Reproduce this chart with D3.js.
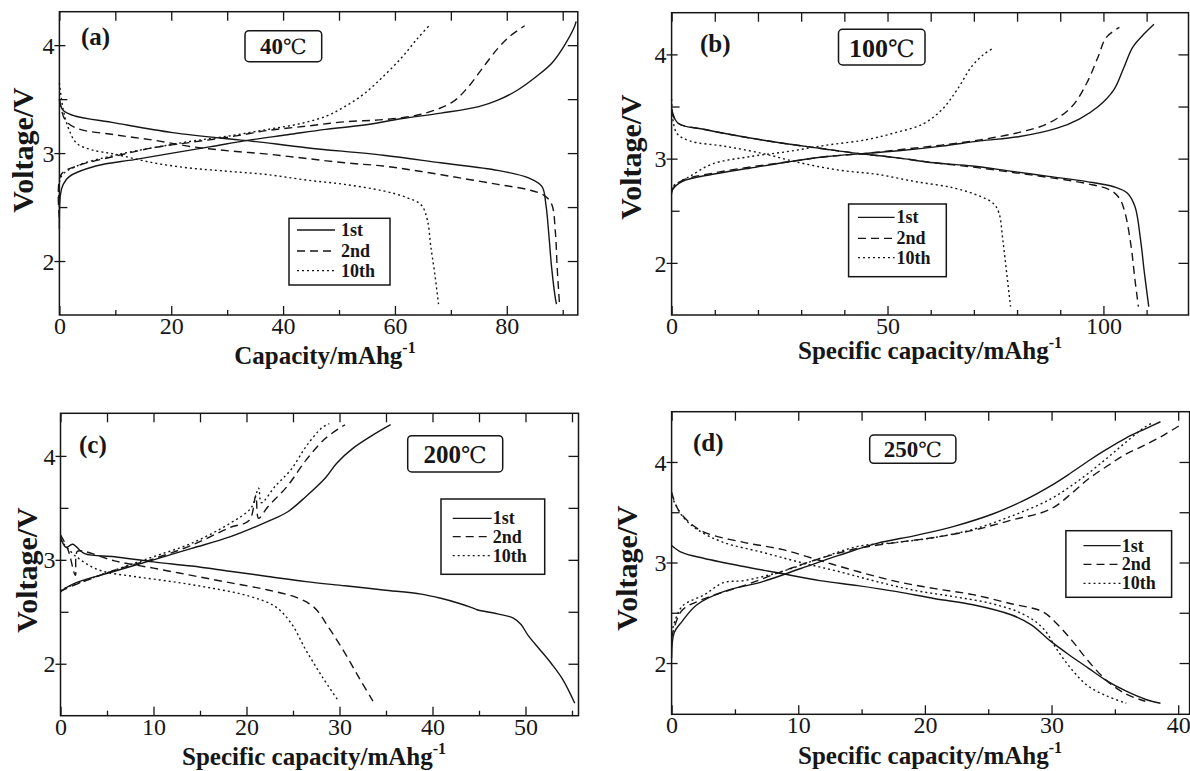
<!DOCTYPE html>
<html><head><meta charset="utf-8">
<script src="https://cdn.jsdelivr.net/npm/d3@7"></script>
<style>body{margin:0;background:#fff} svg{display:block}</style>
</head><body>
<svg id="chart" width="1190" height="771"></svg>
<script>
// ---------------- DATA ----------------
const seriesNames = ["1st", "2nd", "10th"];

// Panel (a) 40℃ : [capacity mAh/g, voltage V]
const a1Charge = [[0,2.3],[0.2,2.62],[0.68,2.71],[1.7,2.78],[6.5,2.88],[13.4,2.94],[20.2,3.0],[27.1,3.06],[33.9,3.12],[40.8,3.17],[47.6,3.22],[54.5,3.26],[61.3,3.32],[68.2,3.37],[75,3.43],[78.4,3.49],[81.8,3.58],[85.3,3.71],[88,3.83],[90.1,3.98],[92.1,4.17],[92.4,4.22]];
const a1Discharge = [[0,3.5],[0.6,3.4],[2.4,3.35],[9.9,3.28],[20.2,3.19],[30.5,3.13],[34.6,3.11],[44.2,3.05],[57.9,2.98],[68.2,2.91],[78.4,2.84],[83.9,2.77],[86.3,2.69],[87,2.52],[87.5,2.26],[88,1.95],[88.7,1.65],[88.9,1.6]];
const a2Charge = [[0,2.4],[0.3,2.8],[3.1,2.88],[9.9,2.97],[16.8,3.05],[23.6,3.1],[30.5,3.15],[37.3,3.21],[44.2,3.25],[51,3.29],[57.9,3.31],[64.7,3.36],[70.2,3.47],[72.9,3.6],[75.7,3.79],[78.4,3.97],[80.5,4.08],[83.2,4.18]];
const a2Discharge = [[0,3.5],[1,3.31],[3.1,3.23],[9.9,3.17],[16.8,3.12],[23.6,3.06],[30.5,3.02],[37.3,2.99],[44.2,2.95],[51,2.91],[57.9,2.88],[64.7,2.83],[71.6,2.77],[78.4,2.71],[83.9,2.66],[86.6,2.61],[88,2.53],[88.7,2.26],[89,1.95],[89.4,1.62]];
const a10Charge = [[0,2.5],[0.3,2.78],[3.1,2.88],[9.9,2.98],[16.8,3.05],[23.6,3.11],[30.5,3.16],[37.3,3.22],[42.8,3.27],[47.6,3.34],[51,3.43],[54.5,3.55],[57.9,3.71],[61.3,3.89],[64,4.06],[66.1,4.18]];
const a10Discharge = [[0,3.65],[0.7,3.4],[1.7,3.22],[3.1,3.09],[5.8,3.03],[9.9,2.99],[16.8,2.91],[23.6,2.86],[30.5,2.83],[37.3,2.8],[44.2,2.75],[51,2.71],[57.9,2.65],[62,2.59],[64.7,2.52],[65.8,2.38],[66.4,2.14],[67.1,1.89],[67.8,1.6]];

// Panel (b) 100℃
const b1Charge = [[0,2.66],[0.2,2.7],[2.4,2.78],[9.5,2.85],[18.3,2.91],[27.2,2.97],[36,3.02],[44.9,3.05],[53.7,3.08],[62.6,3.12],[71.4,3.17],[80.3,3.21],[89.1,3.29],[94.4,3.38],[98.8,3.5],[102.4,3.66],[104.6,3.86],[106.8,4.07],[109.5,4.2],[111.7,4.29]];
const b1Discharge = [[0,3.48],[1.5,3.34],[7.7,3.28],[16.5,3.21],[25.4,3.15],[34.2,3.1],[43.1,3.05],[51.9,3.01],[60.8,2.96],[69.6,2.93],[78.5,2.88],[87.3,2.83],[96.2,2.78],[102.4,2.73],[105.5,2.67],[107.3,2.54],[108.6,2.22],[109.5,1.9],[110.5,1.58]];
const b2Charge = [[0,2.68],[0.2,2.71],[2.4,2.79],[9.5,2.86],[18.3,2.92],[27.2,2.97],[36,3.02],[44.9,3.05],[53.7,3.09],[62.6,3.13],[71.4,3.18],[80.3,3.25],[87.3,3.34],[92.7,3.5],[96.2,3.73],[98.8,3.98],[100.6,4.16],[103.7,4.26]];
const b2Discharge = [[0,3.45],[1.5,3.34],[7.7,3.28],[16.5,3.21],[25.4,3.15],[34.2,3.1],[43.1,3.05],[51.9,3.01],[60.8,2.96],[69.6,2.92],[78.5,2.87],[87.3,2.82],[96.2,2.76],[101.5,2.7],[103.7,2.62],[105,2.48],[106.4,2.16],[107.3,1.84],[108.1,1.58]];
const b10Charge = [[0,2.7],[0.2,2.73],[4.2,2.83],[9.5,2.95],[18.3,3.02],[27.2,3.07],[36,3.13],[44.9,3.18],[51.9,3.25],[58.1,3.33],[62.6,3.47],[66.1,3.66],[69.6,3.89],[72.3,4.0],[74.5,4.06]];
const b10Discharge = [[0,3.57],[1.1,3.25],[4.2,3.17],[12.1,3.12],[21,3.05],[29.8,2.96],[38.7,2.89],[47.5,2.85],[56.4,2.78],[65.2,2.72],[71.4,2.64],[74.5,2.57],[75.8,2.48],[76.7,2.22],[77.6,1.9],[78.5,1.58]];

// Panel (c) 200℃
const c1Charge = [[0,2.69],[0.1,2.7],[1.7,2.78],[5.8,2.89],[10,3.0],[14.1,3.11],[18.2,3.22],[22.3,3.37],[24.4,3.46],[26.4,3.61],[28.5,3.79],[29.7,3.93],[31.4,4.07],[33.4,4.19],[35.5,4.3]];
const c1Discharge = [[0,3.22],[0.6,3.12],[1.3,3.15],[2.6,3.06],[5.8,3.03],[10,2.98],[14.1,2.94],[18.2,2.89],[22.3,2.84],[26.4,2.79],[30.6,2.75],[34.7,2.71],[38.8,2.67],[40.9,2.63],[42.9,2.58],[44.2,2.54],[44.8,2.52],[47,2.48],[48.7,2.44],[49.5,2.38],[50.3,2.27],[51.6,2.13],[52.8,2.0],[54,1.85],[55.3,1.62]];
const c2Charge = [[0,2.69],[0.1,2.7],[5.8,2.9],[10,3.01],[14.1,3.14],[18.2,3.31],[20.3,3.38],[21.0,3.62],[21.3,3.4],[22.3,3.51],[24.4,3.71],[26.4,3.96],[28.5,4.17],[30.6,4.3]];
const c2Discharge = [[0,3.24],[0.8,3.1],[1.6,2.85],[1.8,3.08],[2.6,3.08],[5.8,2.99],[10,2.92],[14.1,2.85],[18.2,2.78],[22.3,2.71],[25.6,2.63],[27.3,2.54],[28.9,2.34],[30.6,2.1],[32.2,1.85],[33.6,1.64]];
const c10Charge = [[0,2.7],[0.1,2.71],[5.8,2.9],[10,3.03],[14.1,3.16],[18.2,3.35],[20.5,3.5],[21.3,3.69],[21.6,3.55],[23.1,3.71],[24.8,3.87],[26.4,4.09],[28.1,4.27],[28.9,4.31]];
const c10Discharge = [[0,3.19],[1.7,3.03],[4.2,2.9],[7.9,2.84],[12,2.79],[16.1,2.73],[20.3,2.65],[23.1,2.55],[24.8,2.39],[26.4,2.13],[28.1,1.88],[29.9,1.64]];

// Panel (d) 250℃
const d1Charge = [[0,2.05],[0.2,2.3],[0.8,2.41],[2,2.58],[4.1,2.71],[7.2,2.81],[10.2,2.94],[13.2,3.07],[16.2,3.19],[19.3,3.27],[22.3,3.36],[25.3,3.48],[27.7,3.61],[29.9,3.76],[31.4,3.88],[32.9,4.01],[34.4,4.13],[35.9,4.24],[37.4,4.33],[38.6,4.4]];
const d1Discharge = [[0,3.17],[0.8,3.1],[2.6,3.04],[5.7,2.96],[8.7,2.89],[11.7,2.82],[14.7,2.77],[17.8,2.71],[20.8,2.64],[23.8,2.58],[26.8,2.48],[28.4,2.38],[29.9,2.22],[31.4,2.08],[32.9,1.95],[34.4,1.82],[35.9,1.72],[37.4,1.64],[38.6,1.6]];
const d2Charge = [[0,2.25],[0.8,2.52],[2.6,2.64],[5.7,2.77],[8.7,2.91],[11.7,3.04],[14.7,3.14],[17.8,3.2],[20.8,3.25],[23.8,3.32],[26.8,3.42],[29.9,3.53],[31.7,3.7],[32.9,3.83],[34.4,3.96],[35.9,4.08],[37.4,4.17],[38.9,4.27],[40.2,4.37]];
const d2Discharge = [[0,3.7],[0.5,3.53],[1.4,3.4],[2.6,3.3],[5.7,3.2],[8.7,3.13],[11.7,3.02],[14.7,2.91],[17.8,2.81],[20.8,2.74],[23.8,2.68],[26.8,2.59],[29.3,2.51],[30.5,2.38],[31.7,2.21],[32.9,2.02],[34.4,1.82],[35.9,1.69],[37.4,1.62]];
const d10Charge = [[0,2.3],[0.8,2.56],[2.6,2.68],[4.1,2.8],[5.7,2.82],[8.7,2.91],[11.7,3.04],[14.7,3.16],[17.8,3.2],[20.8,3.25],[23.8,3.33],[26.8,3.46],[29.9,3.63],[32.3,3.83],[34.4,4.04],[35.9,4.2],[37.4,4.35],[38,4.39]];
const d10Discharge = [[0,3.66],[0.8,3.47],[2,3.33],[4.1,3.2],[7.2,3.1],[10.2,3.0],[13.2,2.91],[16.2,2.81],[19.3,2.72],[22.3,2.66],[25.3,2.59],[27.7,2.49],[29.3,2.35],[30.5,2.12],[31.7,1.92],[32.9,1.77],[34.4,1.67],[35.9,1.6]];

// Tick values
const xTicksA = [0, 20, 40, 60, 80];
const xMinorA = [10, 30, 50, 70, 90];
const xTicksB = [0, 50, 100];
const xMinorB = [10, 20, 30, 40, 60, 70, 80, 90, 110];
const xTicksC = [0, 10, 20, 30, 40, 50];
const xMinorC = [5, 15, 25, 35, 45, 55];
const xTicksD = [0, 10, 20, 30, 40];
const xMinorD = [5, 15, 25, 35];
const yTicks = [2, 3, 4];
const yMinor = [2.5, 3.5];

const panelLabels = ["(a)", "(b)", "(c)", "(d)"];
const tempValues = ["40", "100", "200", "250"];
const tempUnit = "℃";
const xTitles = ["Capacity/mAhg", "Specific capacity/mAhg", "Specific capacity/mAhg", "Specific capacity/mAhg"];
const yTitle = "Voltage/V";

// ---------------- DRAW ----------------
const svg = d3.select("#chart");
svg.append("rect").attr("width", 1190).attr("height", 771).attr("fill", "#fff");
const INK = "#161616";
const dashes = {"1st": null, "2nd": "8,5", "10th": "2,3"};
const SERIF = "Liberation Serif, Times New Roman, serif";
const UNITFONT = "DejaVu Serif, Noto Sans CJK SC, serif";

function drawPanel(p) {
  const x = d3.scaleLinear().domain(p.xDomain).range([p.L, p.R]);
  const y = d3.scaleLinear().domain(p.yDomain).range([p.B, p.T]);
  const g = svg.append("g");

  // curves
  const line = d3.line().x(d => x(d[0])).y(d => y(d[1])).curve(d3.curveCatmullRom.alpha(0.5));
  p.series.forEach(s => {
    [s.charge, s.discharge].forEach(data => {
      g.append("path").datum(data).attr("d", line)
        .attr("fill", "none").attr("stroke", INK).attr("stroke-width", 1.4)
        .attr("stroke-dasharray", dashes[s.name]);
    });
  });

  // axes (ticks inward; left major ticks cross the axis)
  const mk = (axisFn, scale, vals, len) => axisFn(scale).tickValues(vals).tickSizeInner(len).tickSizeOuter(0);
  const bottom = g.append("g").attr("transform", `translate(0,${p.B})`)
    .call(mk(d3.axisBottom, x, p.xMajor, -9).tickFormat(d3.format("d")));
  g.append("g").attr("transform", `translate(0,${p.B})`)
    .call(mk(d3.axisBottom, x, p.xMinor, -5).tickFormat(""));
  g.append("g").attr("transform", `translate(0,${p.T})`)
    .call(mk(d3.axisTop, x, p.xMajor.concat(p.xMinor), -9).tickFormat(""));
  const left = g.append("g").attr("transform", `translate(${p.L},0)`)
    .call(mk(d3.axisLeft, y, yTicks, 5).tickFormat(d3.format("d")));
  left.selectAll(".tick line").attr("x1", 6);
  g.append("g").attr("transform", `translate(${p.L},0)`)
    .call(mk(d3.axisLeft, y, yMinor, -8).tickFormat(""));
  g.append("g").attr("transform", `translate(${p.R},0)`)
    .call(mk(d3.axisRight, y, yTicks.concat(yMinor), -10).tickFormat(""));
  g.selectAll(".domain").remove();
  g.selectAll(".tick line").attr("stroke", INK).attr("stroke-width", 1.3);
  bottom.selectAll(".tick text").style("font-family", SERIF).style("font-size", "24px")
    .attr("fill", INK).attr("y", 2).attr("dy", "0.71em");
  left.selectAll(".tick text").style("font-family", SERIF).style("font-size", "24px")
    .attr("fill", INK).attr("x", -5).attr("dy", "0.34em");

  // frame
  g.append("rect").attr("x", p.L).attr("y", p.T).attr("width", p.R - p.L).attr("height", p.B - p.T)
    .attr("fill", "none").attr("stroke", INK).attr("stroke-width", 1.5);

  // panel label
  g.append("text").attr("x", p.lab[0]).attr("y", p.lab[1]).text(p.label)
    .style("font-family", SERIF).style("font-weight", "bold").style("font-size", "25px").attr("fill", INK);

  // temperature box
  const tb = p.tbox;
  g.append("rect").attr("x", tb[0]).attr("y", tb[1]).attr("width", tb[2] - tb[0]).attr("height", tb[3] - tb[1])
    .attr("rx", 4).attr("fill", "#fff").attr("stroke", INK).attr("stroke-width", 1.5);
  const tt = g.append("text").attr("x", (tb[0] + tb[2]) / 2).attr("y", (tb[1] + tb[3]) / 2).attr("dy", "0.36em")
    .attr("text-anchor", "middle")
    .style("font-family", SERIF).style("font-weight", "bold").style("font-size", p.tfs + "px").attr("fill", INK);
  tt.append("tspan").text(p.temp);
  tt.append("tspan").text(tempUnit).style("font-family", UNITFONT).style("font-weight", "normal")
    .style("font-size", (p.tfs * 0.92) + "px");

  // legend
  const lg = p.leg;
  g.append("rect").attr("x", lg.box[0]).attr("y", lg.box[1]).attr("width", lg.box[2] - lg.box[0])
    .attr("height", lg.box[3] - lg.box[1]).attr("fill", "#fff").attr("stroke", INK).attr("stroke-width", 1.5);
  seriesNames.forEach((nm, i) => {
    const yy = lg.rows[i];
    g.append("line").attr("x1", lg.lx[0]).attr("x2", lg.lx[1]).attr("y1", yy).attr("y2", yy)
      .attr("stroke", INK).attr("stroke-width", 1.3).attr("stroke-dasharray", dashes[nm]);
    g.append("text").attr("x", lg.tx).attr("y", yy).attr("dy", "0.33em").text(nm)
      .style("font-family", SERIF).style("font-weight", "bold").style("font-size", "18px").attr("fill", INK);
  });

  // x title with superscript
  const xt = g.append("text").attr("x", p.xt[0]).attr("y", p.xt[1]).attr("text-anchor", "middle")
    .style("font-family", SERIF).style("font-weight", "bold").style("font-size", "25px").attr("fill", INK);
  xt.append("tspan").text(p.xTitle);
  xt.append("tspan").attr("dy", -11).style("font-size", "16px").text("-1");

  // y title
  g.append("text").attr("transform", `translate(${p.yt[0]},${p.yt[1]}) rotate(-90)`)
    .attr("text-anchor", "middle").attr("dy", "0.3em").text(yTitle)
    .style("font-family", SERIF).style("font-weight", "bold").style("font-size", "30px").attr("fill", INK);
}

const panels = [
  { L: 59.4, R: 577.8, T: 11.7, B: 315, xDomain: [0, 92.7], yDomain: [1.5, 4.31],
    xMajor: xTicksA, xMinor: xMinorA,
    series: [{name: "1st", charge: a1Charge, discharge: a1Discharge},
             {name: "2nd", charge: a2Charge, discharge: a2Discharge},
             {name: "10th", charge: a10Charge, discharge: a10Discharge}],
    label: panelLabels[0], lab: [81, 45], temp: tempValues[0], tfs: 23, tbox: [245, 30.7, 321.7, 61.7],
    leg: {box: [289, 218.3, 390, 285], lx: [297, 335], tx: 341, rows: [230, 251, 270.7]},
    xTitle: xTitles[0], xt: [325, 364], yt: [24, 150] },
  { L: 671.6, R: 1188.5, T: 12.7, B: 315, xDomain: [0, 119.7], yDomain: [1.5, 4.4],
    xMajor: xTicksB, xMinor: xMinorB,
    series: [{name: "1st", charge: b1Charge, discharge: b1Discharge},
             {name: "2nd", charge: b2Charge, discharge: b2Discharge},
             {name: "10th", charge: b10Charge, discharge: b10Discharge}],
    label: panelLabels[1], lab: [700, 52], temp: tempValues[1], tfs: 26, tbox: [838.5, 29.3, 925, 65],
    leg: {box: [848.6, 204, 946.3, 276.7], lx: [858, 894.6], tx: 896.5, rows: [217.3, 238.3, 257.7]},
    xTitle: xTitles[1], xt: [930, 359], yt: [632, 157] },
  { L: 60.5, R: 578.5, T: 413.3, B: 715.7, xDomain: [0, 55.7], yDomain: [1.5, 4.41],
    xMajor: xTicksC, xMinor: xMinorC,
    series: [{name: "1st", charge: c1Charge, discharge: c1Discharge},
             {name: "2nd", charge: c2Charge, discharge: c2Discharge},
             {name: "10th", charge: c10Charge, discharge: c10Discharge}],
    label: panelLabels[2], lab: [79, 453], temp: tempValues[2], tfs: 25, tbox: [407.7, 435.7, 502.7, 472],
    leg: {box: [441, 499, 544.7, 574.3], lx: [452.7, 491.7], tx: 492.7, rows: [518.3, 536.7, 555.7]},
    xTitle: xTitles[2], xt: [314, 765], yt: [28, 570] },
  { L: 671.6, R: 1189.6, T: 411.7, B: 714.3, xDomain: [0, 40.9], yDomain: [1.49, 4.5],
    xMajor: xTicksD, xMinor: xMinorD,
    series: [{name: "1st", charge: d1Charge, discharge: d1Discharge},
             {name: "2nd", charge: d2Charge, discharge: d2Discharge},
             {name: "10th", charge: d10Charge, discharge: d10Discharge}],
    label: panelLabels[3], lab: [693, 451], temp: tempValues[3], tfs: 23, tbox: [869.7, 435, 955.9, 463.3],
    leg: {box: [1065.9, 530.7, 1171.6, 597.3], lx: [1083.5, 1120.7], tx: 1121.8, rows: [545.7, 564.3, 583.3]},
    xTitle: xTitles[3], xt: [930, 764], yt: [628, 568] }
];
panels.forEach(drawPanel);
</script>
</body></html>
